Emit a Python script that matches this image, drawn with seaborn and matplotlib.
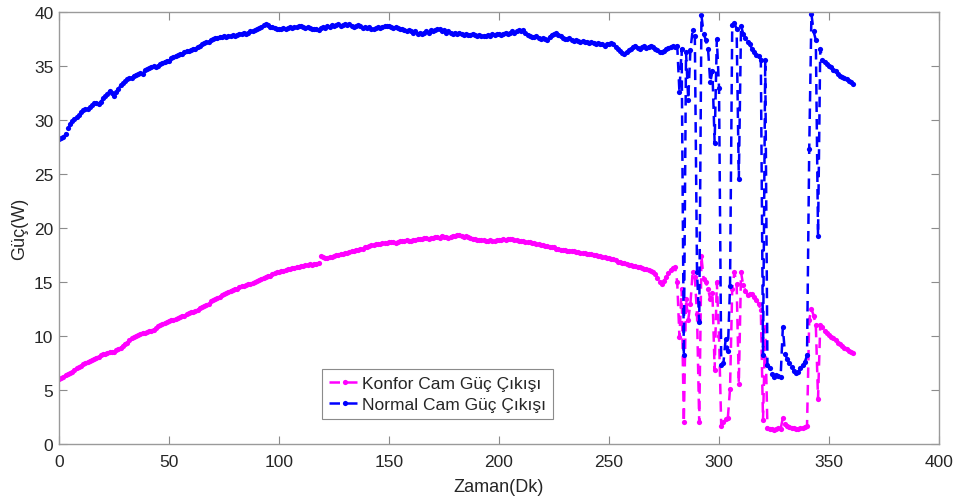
import numpy as np
import pandas as pd
import matplotlib
matplotlib.use("Agg")
import matplotlib.pyplot as plt
import seaborn as sns

# ---------------- data (one sample per minute) ----------------
minutes = list(range(362))

normal_cam = [
    28.2, 28.3, 28.4, 28.7, 29.3, 29.6, 29.9, 30.1, 30.3, 30.5,
    30.7, 30.9, 31.0, 31.0, 31.2, 31.4, 31.6, 31.6, 31.5, 31.7,
    32.0, 32.2, 32.4, 32.7, 32.5, 32.2, 32.6, 32.9, 33.2, 33.4,
    33.6, 33.8, 33.9, 33.9, 34.1, 34.2, 34.3, 34.4, 34.3, 34.6,
    34.7, 34.8, 34.9, 35.0, 34.9, 35.0, 35.2, 35.3, 35.4, 35.5,
    35.5, 35.7, 35.8, 35.9, 36.0, 36.1, 36.1, 36.3, 36.4, 36.4,
    36.5, 36.6, 36.6, 36.8, 36.9, 37.0, 37.1, 37.2, 37.2, 37.4,
    37.5, 37.6, 37.6, 37.7, 37.7, 37.8, 37.7, 37.8, 37.8, 37.9,
    37.8, 37.9, 38.0, 38.0, 38.1, 38.0, 38.1, 38.2, 38.2, 38.3,
    38.4, 38.5, 38.6, 38.8, 38.9, 38.8, 38.6, 38.6, 38.5, 38.4,
    38.4, 38.4, 38.5, 38.4, 38.5, 38.6, 38.5, 38.6, 38.6, 38.7,
    38.7, 38.6, 38.5, 38.6, 38.5, 38.4, 38.4, 38.4, 38.3, 38.5,
    38.6, 38.5, 38.7, 38.6, 38.8, 38.7, 38.8, 38.9, 38.7, 38.8,
    38.9, 38.8, 38.9, 38.7, 38.6, 38.7, 38.8, 38.7, 38.5, 38.6,
    38.5, 38.6, 38.4, 38.4, 38.5, 38.6, 38.5, 38.6, 38.7, 38.7,
    38.7, 38.6, 38.5, 38.6, 38.5, 38.4, 38.4, 38.3, 38.2, 38.3,
    38.2, 38.1, 38.2, 38.0, 38.1, 38.0, 38.1, 38.2, 38.1, 38.3,
    38.2, 38.3, 38.4, 38.4, 38.2, 38.3, 38.1, 38.2, 38.1, 38.0,
    38.1, 38.0, 38.1, 38.0, 37.9, 38.0, 37.9, 37.9, 38.0, 37.9,
    37.8, 37.9, 37.8, 37.8, 37.8, 37.9, 37.8, 38.0, 37.9, 38.0,
    38.0, 37.9, 38.0, 38.1, 38.0, 38.1, 38.2, 38.1, 38.2, 38.3,
    38.2, 38.3, 38.1, 37.9, 37.8, 37.7, 37.7, 37.8, 37.6, 37.5,
    37.6, 37.5, 37.4, 37.7, 37.9, 38.0, 38.1, 37.9, 37.8, 37.6,
    37.5, 37.5, 37.6, 37.4, 37.3, 37.4, 37.3, 37.2, 37.3, 37.2,
    37.2, 37.1, 37.2, 37.1, 37.0, 37.1, 37.0, 37.0, 36.9, 37.0,
    37.0, 37.1, 37.0, 36.8, 36.6, 36.4, 36.2, 36.1, 36.3, 36.5,
    36.6, 36.8, 36.9, 36.7, 36.6, 36.8, 36.9, 36.7, 36.8, 36.9,
    36.8, 36.6, 36.5, 36.3, 36.3, 36.4, 36.6, 36.7, 36.8, 36.9,
    36.8, 36.9, 32.6, 36.6, 8.2, 36.3, 31.9, 36.5, 38.3, 37.8,
    15.9, 11.3, 39.7, 38.0, 37.4, 36.6, 33.5, 34.5, 27.9, 37.5,
    33.0, 7.3, 7.5, 9.7, 8.6, 14.6, 38.8, 39.0, 38.4, 24.5,
    38.7, 38.0, 37.6, 37.2, 37.0, 36.6, 36.3, 36.0, 35.9, 35.6,
    8.2, 35.6, 7.3, 7.0, 6.5, 6.2, 6.4, 6.3, 6.2, 10.8,
    8.3, 7.9, 7.5, 7.1, 6.8, 6.6, 6.7, 7.0, 7.3, 7.6,
    8.2, 27.3, 39.8, 38.2, 37.4, 19.3, 36.6, 35.6, 35.4, 35.2,
    35.0, 34.9, 34.6, 34.5, 34.3, 34.1, 34.0, 33.9, 33.8, 33.6,
    33.5, 33.3,
]

konfor_cam = [
    6.0, 6.1, 6.2, 6.4, 6.5, 6.6, 6.7, 6.9, 7.0, 7.1,
    7.2, 7.4, 7.5, 7.6, 7.7, 7.8, 7.9, 8.0, 8.1, 8.2,
    8.3, 8.3, 8.4, 8.5, 8.5, 8.5, 8.7, 8.8, 8.9, 9.1,
    9.3, 9.4, 9.6, 9.8, 9.9, 10.0, 10.1, 10.2, 10.3, 10.3,
    10.4, 10.5, 10.5, 10.6, 10.7, 10.9, 11.0, 11.1, 11.2, 11.3,
    11.4, 11.5, 11.5, 11.6, 11.7, 11.8, 11.9, 11.9, 12.0, 12.1,
    12.2, 12.2, 12.3, 12.4, 12.6, 12.7, 12.8, 12.9, 13.0, 13.2,
    13.3, 13.4, 13.5, 13.6, 13.8, 13.9, 14.0, 14.1, 14.2, 14.3,
    14.4, 14.4, 14.5, 14.6, 14.6, 14.7, 14.8, 14.8, 14.9, 15.0,
    15.1, 15.2, 15.3, 15.4, 15.5, 15.6, 15.6, 15.7, 15.8, 15.9,
    15.9, 16.0, 16.0, 16.1, 16.2, 16.2, 16.3, 16.3, 16.4, 16.4,
    16.5, 16.5, 16.6, 16.6, 16.7, 16.6, 16.7, 16.7, 16.8, 17.4,
    17.3, 17.2, 17.2, 17.3, 17.3, 17.4, 17.5, 17.5, 17.6, 17.6,
    17.7, 17.7, 17.8, 17.9, 17.9, 18.0, 18.0, 18.1, 18.1, 18.2,
    18.2, 18.3, 18.4, 18.4, 18.5, 18.5, 18.5, 18.6, 18.6, 18.6,
    18.7, 18.7, 18.7, 18.6, 18.7, 18.8, 18.8, 18.8, 18.9, 18.8,
    18.8, 18.9, 18.9, 19.0, 19.0, 19.0, 19.1, 19.1, 19.0, 19.1,
    19.1, 19.2, 19.2, 19.1, 19.3, 19.2, 19.2, 19.1, 19.2, 19.3,
    19.3, 19.4, 19.4, 19.3, 19.2, 19.3, 19.2, 19.1, 19.0, 19.0,
    18.9, 18.9, 18.9, 18.9, 18.8, 18.8, 18.9, 18.8, 18.8, 18.9,
    18.9, 18.9, 19.0, 18.9, 19.0, 19.0, 19.0, 18.9, 18.9, 18.8,
    18.8, 18.8, 18.7, 18.7, 18.7, 18.6, 18.6, 18.5, 18.5, 18.4,
    18.4, 18.3, 18.3, 18.2, 18.2, 18.2, 18.1, 18.1, 18.0, 18.0,
    18.0, 17.9, 17.9, 17.9, 17.9, 17.8, 17.8, 17.7, 17.7, 17.7,
    17.6, 17.6, 17.6, 17.5, 17.5, 17.4, 17.4, 17.3, 17.3, 17.2,
    17.2, 17.1, 17.1, 17.0, 16.9, 16.9, 16.8, 16.8, 16.7, 16.6,
    16.6, 16.5, 16.5, 16.4, 16.4, 16.3, 16.2, 16.2, 16.1, 16.0,
    15.9, 15.7, 15.4, 15.0, 14.8, 15.1, 15.5, 15.8, 16.1, 16.3,
    16.4, 15.0, 9.9, 14.4, 2.0, 13.4, 11.5, 13.0, 15.9, 15.5,
    12.0, 2.0, 17.4, 15.3, 15.0, 14.4, 13.4, 14.0, 6.9, 15.0,
    10.0, 1.7, 2.0, 2.3, 2.4, 5.1, 14.4, 15.9, 14.8, 5.6,
    15.9, 14.7, 14.2, 13.8, 13.9, 13.9, 13.6, 13.3, 13.0, 12.4,
    2.2, 10.8, 1.5, 1.4, 1.4, 1.3, 1.4, 1.5, 1.4, 2.4,
    1.9, 1.7, 1.6, 1.5, 1.5, 1.4, 1.4, 1.5, 1.5, 1.6,
    1.7, 11.5, 12.5, 11.9, 11.0, 4.2, 11.0, 10.8, 10.5, 10.3,
    10.1, 9.9, 9.8, 9.6, 9.4, 9.3, 9.1, 8.9, 8.8, 8.6,
    8.5, 8.4,
]

series_names = ["Konfor Cam Güç Çıkışı", "Normal Cam Güç Çıkışı"]
x_ticks = [0, 50, 100, 150, 200, 250, 300, 350, 400]
y_ticks = [0, 5, 10, 15, 20, 25, 30, 35, 40]

# ---------------- style ----------------
sns.set_style("white")
plt.rcParams["font.family"] = ["Liberation Sans", "DejaVu Sans"]

fig = plt.figure(figsize=(9.58, 5.02), dpi=100)
ax = fig.add_axes([0.0616, 0.1135, 0.9186, 0.8605])

df_k = pd.DataFrame({"t": minutes, "v": konfor_cam})
df_n = pd.DataFrame({"t": minutes, "v": normal_cam})

common = dict(x="t", y="v", estimator=None, sort=False, linewidth=1.8,
              marker=".", markersize=7.5, markeredgewidth=0)
sns.lineplot(data=df_k, ax=ax, color="#FF00FF", label=series_names[0], **common)
sns.lineplot(data=df_n, ax=ax, color="#0000FF", label=series_names[1], **common)
for ln in ax.get_lines():
    ln.set_dashes((4.2, 2.8))

ax.set_xlim(0, 400)
ax.set_ylim(0, 40)
ax.set_xticks(x_ticks)
ax.set_yticks(y_ticks)
ax.set_xticklabels([str(v) for v in x_ticks])
ax.set_yticklabels([str(v) for v in y_ticks])

ax.tick_params(axis="both", direction="in", length=6, width=0.8, color="#8c8c8c",
               labelsize=12.5, labelcolor="#262626", top=True, right=True,
               bottom=True, left=True)
ax.tick_params(axis="x", pad=7)
ax.tick_params(axis="y", pad=4)
for sp in ax.spines.values():
    sp.set_color("#9a9a9a")
    sp.set_linewidth(1.0)

ax.set_xlabel("Zaman(Dk)", fontsize=13, color="#262626", labelpad=7)
ax.set_ylabel("Güç(W)", fontsize=13, color="#262626", labelpad=4)

leg = ax.legend(loc="lower left", bbox_to_anchor=(0.299, 0.058), borderaxespad=0,
                fontsize=12.5, frameon=True, fancybox=False, handlelength=1.8,
                handletextpad=0.1, borderpad=0.4, labelspacing=0.35)
leg.get_frame().set_edgecolor("#6e6e6e")
leg.get_frame().set_linewidth(0.8)
for txt in leg.get_texts():
    txt.set_color("#262626")

fig.savefig("out.png", dpi=100)
